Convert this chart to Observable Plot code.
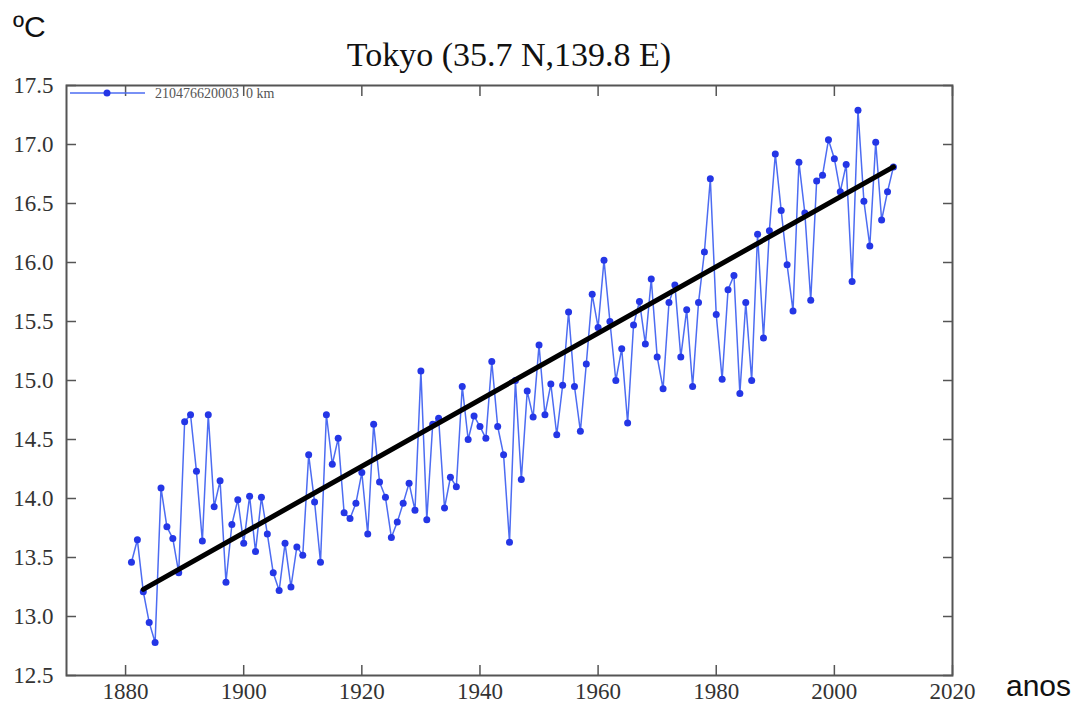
<!DOCTYPE html>
<html>
<head>
<meta charset="utf-8">
<script src="https://cdn.jsdelivr.net/npm/d3@7"></script>
<script src="https://cdn.jsdelivr.net/npm/@observablehq/plot@0.6"></script>
<style>
  body { margin: 0; background: #fff; }
  #wrap { position: relative; width: 1086px; height: 709px; overflow: hidden; background: #fff; }
</style>
</head>
<body>
<div id="wrap"></div>
<script>
// ---- data ----
const firstYear = 1881;
const temps = [
  13.46, 13.65, 13.21, 12.95, 12.78, 14.09, 13.76, 13.66, 13.37, 14.65,
  14.71, 14.23, 13.64, 14.71, 13.93, 14.15, 13.29, 13.78, 13.99, 13.62,
  14.02, 13.55, 14.01, 13.70, 13.37, 13.22, 13.62, 13.25, 13.59, 13.52,
  14.37, 13.97, 13.46, 14.71, 14.29, 14.51, 13.88, 13.83, 13.96, 14.22,
  13.70, 14.63, 14.14, 14.01, 13.67, 13.80, 13.96, 14.13, 13.90, 15.08,
  13.82, 14.63, 14.68, 13.92, 14.18, 14.10, 14.95, 14.50, 14.70, 14.61,
  14.51, 15.16, 14.61, 14.37, 13.63, 15.00, 14.16, 14.91, 14.69, 15.30,
  14.71, 14.97, 14.54, 14.96, 15.58, 14.95, 14.57, 15.14, 15.73, 15.45,
  16.02, 15.50, 15.00, 15.27, 14.64, 15.47, 15.67, 15.31, 15.86, 15.20,
  14.93, 15.66, 15.81, 15.20, 15.60, 14.95, 15.66, 16.09, 16.71, 15.56,
  15.01, 15.77, 15.89, 14.89, 15.66, 15.00, 16.24, 15.36, 16.27, 16.92,
  16.44, 15.98, 15.59, 16.85, 16.42, 15.68, 16.69, 16.74, 17.04, 16.88,
  16.60, 16.83, 15.84, 17.29, 16.52, 16.14, 17.02, 16.36, 16.60, 16.81
];
const years = temps.map((_, i) => firstYear + i);
const trendYears = [1883, 2010];
const trendTemps = [13.23, 16.81];
const xTicks = [1880, 1900, 1920, 1940, 1960, 1980, 2000, 2020];
const yTicks = [12.5, 13.0, 13.5, 14.0, 14.5, 15.0, 15.5, 16.0, 16.5, 17.0, 17.5];
const titleText = "Tokyo (35.7 N,139.8 E)";
const unitText = "ºC";
const xLabelText = "anos";
const legendText = "210476620003  0 km";

const rows = years.map((y, i) => ({year: y, temp: temps[i]}));
const trendRows = trendYears.map((y, i) => ({year: y, temp: trendTemps[i]}));

const axisColor = "#555";
const chart = Plot.plot({
  width: 1086,
  height: 709,
  marginLeft: 66,
  marginRight: 134,
  marginTop: 85,
  marginBottom: 34,
  x: {domain: [1870, 2020]},
  y: {domain: [12.5, 17.5]},
  style: {background: "transparent", fontFamily: "'Liberation Serif', 'Times New Roman', serif", fontSize: "23px", color: "#333", overflow: "visible"},
  marks: [
    Plot.line(rows, {x: "year", y: "temp", stroke: "#4d6cf2", strokeWidth: 1.5}),
    Plot.dot(rows, {x: "year", y: "temp", fill: "#2436e6", r: 3.5, stroke: "none"}),
    Plot.line(trendRows, {x: "year", y: "temp", stroke: "#000", strokeWidth: 5, strokeLinecap: "round"}),
    Plot.frame({stroke: axisColor, strokeWidth: 2}),
    Plot.axisX({ticks: xTicks, anchor: "bottom", tickSize: -10, tickPadding: 17, label: null, stroke: axisColor, fill: "#333", strokeWidth: 1.5, tickFormat: d => String(d)}),
    Plot.axisX({ticks: xTicks, anchor: "top", tickSize: -10, label: null, stroke: axisColor, strokeWidth: 1.5, tickFormat: () => ""}),
    Plot.axisY({ticks: yTicks, anchor: "left", tickSize: -10, tickPadding: 23, label: null, stroke: axisColor, fill: "#333", strokeWidth: 1.5, tickFormat: d => d.toFixed(1)}),
    Plot.axisY({ticks: yTicks, anchor: "right", tickSize: -10, label: null, stroke: axisColor, strokeWidth: 1.5, tickFormat: () => ""})
  ]
});
document.getElementById("wrap").appendChild(chart);

// ---- titles and legend (text & legend sample) ----
const svg = d3.select(chart);
svg.append("text").attr("x", 509).attr("y", 66).attr("text-anchor", "middle")
  .attr("font-family", "'Liberation Serif', 'Times New Roman', serif").attr("font-size", 34).attr("fill", "#111")
  .text(titleText);
svg.append("text").attr("x", 13).attr("y", 37).attr("text-anchor", "start")
  .attr("font-family", "'Liberation Sans', Arial, sans-serif").attr("font-size", 30).attr("fill", "#111")
  .text(unitText);
svg.append("text").attr("x", 1006).attr("y", 696).attr("text-anchor", "start")
  .attr("font-family", "'Liberation Sans', Arial, sans-serif").attr("font-size", 30).attr("fill", "#111")
  .text(xLabelText);
const lg = svg.append("g");
lg.append("line").attr("x1", 70).attr("x2", 145).attr("y1", 93).attr("y2", 93).attr("stroke", "#4d6cf2").attr("stroke-width", 1.5);
lg.append("circle").attr("cx", 107).attr("cy", 93).attr("r", 3.5).attr("fill", "#2436e6");
lg.append("text").attr("x", 155).attr("y", 97.5).attr("text-anchor", "start").attr("xml:space", "preserve")
  .attr("font-family", "'Liberation Serif', serif").attr("font-size", 14).attr("fill", "#555")
  .text(legendText);
</script>
</body>
</html>
